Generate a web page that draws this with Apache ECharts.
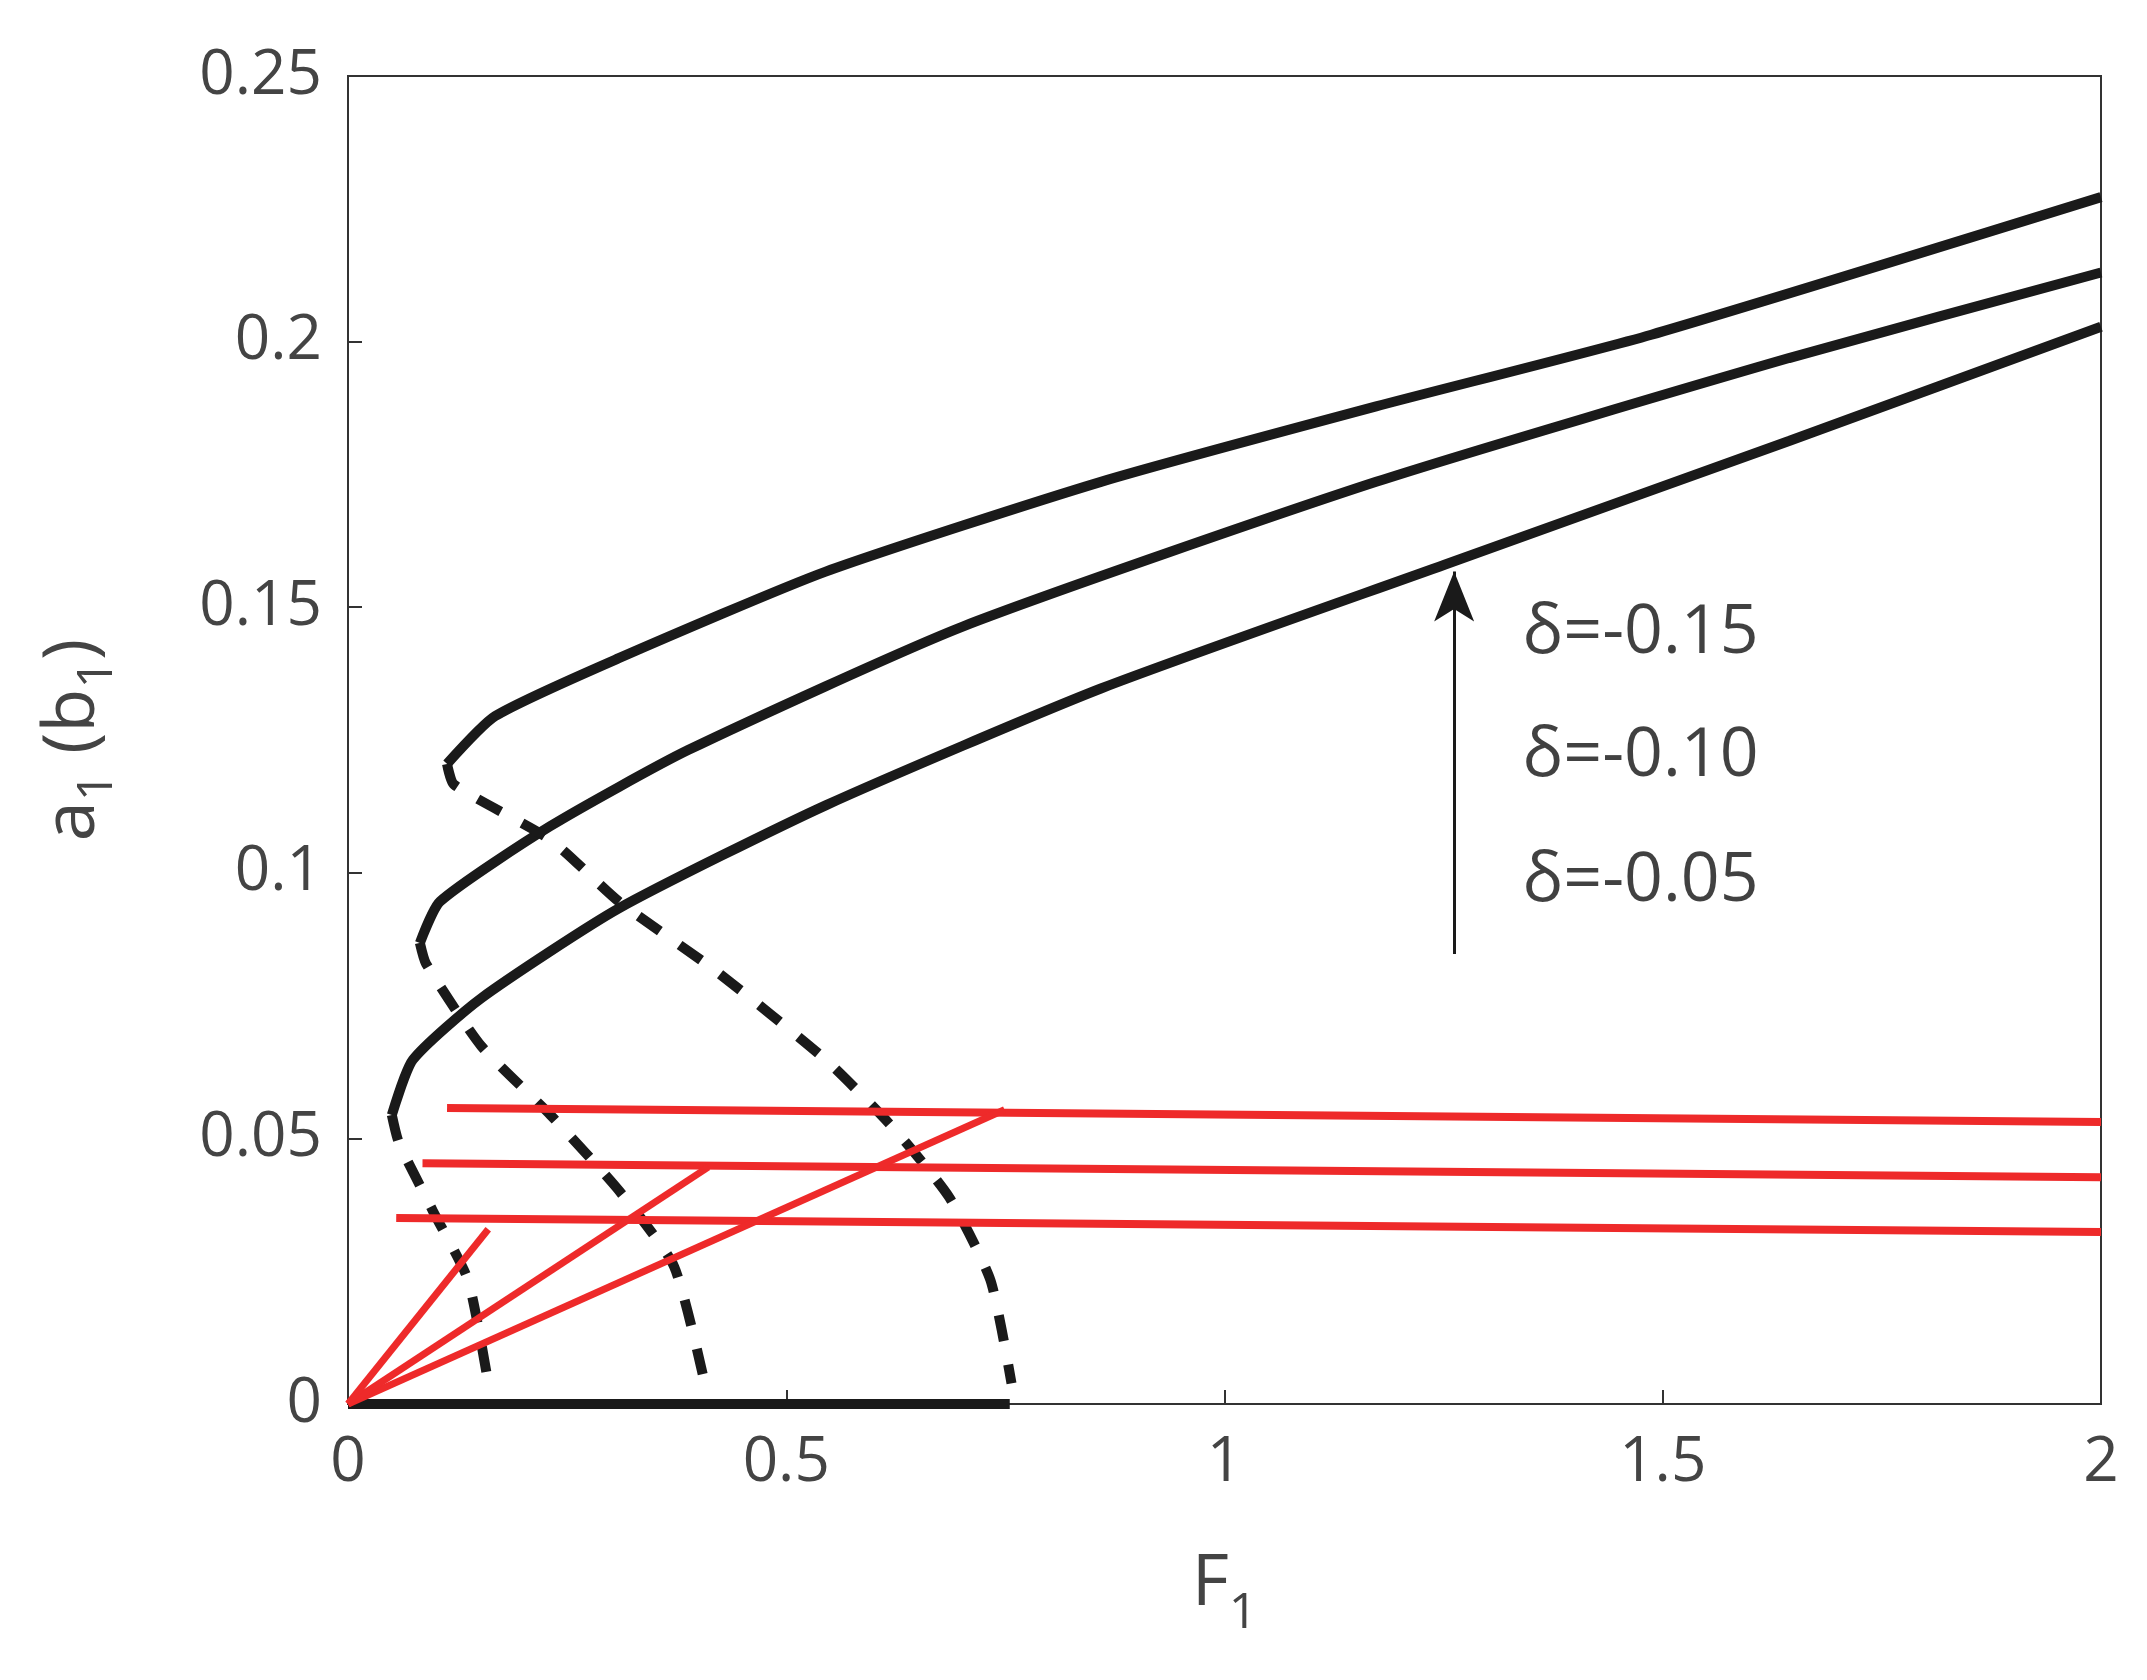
<!DOCTYPE html>
<html><head><meta charset="utf-8">
<script src="https://cdn.jsdelivr.net/npm/echarts@6/dist/echarts.min.js"></script>
<style>html,body{margin:0;background:#fff}#c{width:2147px;height:1680px}</style>
</head><body><div id="c"></div>
<script>
// stable branches (solid black)
const upper15 = [[0.113,0.1205],[0.168,0.1295],[0.309,0.1404],[0.545,0.1567],[0.859,0.1736],[1.173,0.1878],[1.487,0.2013],[2,0.2272]];
const upper10 = [[0.082,0.0868],[0.105,0.0946],[0.231,0.1088],[0.388,0.1231],[0.702,0.1464],[1.173,0.1736],[1.644,0.1969],[2,0.213]];
const upper05 = [[0.050,0.0544],[0.074,0.0648],[0.152,0.0764],[0.309,0.0933],[0.545,0.1127],[0.859,0.1347],[1.251,0.158],[1.644,0.1813],[2,0.2028]];
// unstable branches (dashed black)
const mid15 = [[0.113,0.1205],[0.121,0.1166],[0.231,0.1062],[0.309,0.0946],[0.419,0.0816],[0.545,0.0648],[0.623,0.0518],[0.686,0.0389],[0.733,0.0233],[0.757,0.0039]];
const mid10 = [[0.082,0.0868],[0.089,0.0829],[0.152,0.0674],[0.231,0.0544],[0.309,0.0402],[0.372,0.0259],[0.407,0.0039]];
const mid05 = [[0.050,0.0544],[0.058,0.0492],[0.097,0.0363],[0.137,0.0233],[0.160,0.0039]];
const trivial = [[0,0],[0.755,0]];
// red branches
const redH15 = [[0.113,0.0557],[2,0.0531]];
const redH10 = [[0.085,0.0453],[2,0.0427]];
const redH05 = [[0.055,0.035],[2,0.0324]];
const redD15 = [[0,0],[0.749,0.0554]];
const redD10 = [[0,0],[0.411,0.0446]];
const redD05 = [[0,0],[0.160,0.0329]];
const deltaLabels = ['δ=-0.15','δ=-0.10','δ=-0.05'];
const deltaPos = [[1.34,0.145],[1.34,0.1218],[1.34,0.0984]];
const arrow = [[1.262,0.0847],[1.262,0.1567]];

const font = 'Open Sans';
const black = '#1a1a1a', red = '#ee2a2a';
function line(data, color, width, type, smooth) {
  return {type:'line', data, showSymbol:false, smooth: smooth ? 0.2 : false, silent:true,
    lineStyle:{color, width, type: type || 'solid'}, z: color === red ? 3 : 2};
}
const axisCommon = {
  min:0, axisLine:{show:true, lineStyle:{color:'#333', width:2}},
  axisTick:{show:true, inside:true, length:14, lineStyle:{color:'#333', width:2}},
  splitLine:{show:false}
};
const chart = echarts.init(document.getElementById('c'));
chart.setOption({
  backgroundColor:'#fff',
  animation:false,
  grid:{left:348, right:46, top:76, bottom:276, show:true, borderColor:'#333', borderWidth:2, backgroundColor:'transparent'},
  xAxis:[
    Object.assign({}, axisCommon, {type:'value', max:2, interval:0.5, position:'bottom',
      axisLabel:{fontFamily:font, fontSize:62, color:'#444', margin:28},
      name:'{a|F}{s|1}', nameLocation:'middle', nameGap:125,
      nameTextStyle:{rich:{a:{fontFamily:font, fontSize:72, color:'#444'}, s:{fontFamily:font, fontSize:50, color:'#444', padding:[60,0,0,0]}}}})
  ],
  yAxis:[
    Object.assign({}, axisCommon, {type:'value', max:0.25, interval:0.05, position:'left',
      axisLabel:{fontFamily:font, fontSize:62, color:'#444', margin:26},
      name:'{a|a}{s|1}{a| (b}{s|1}{a|)}', nameLocation:'middle', nameGap:225, nameRotate:90,
      nameTextStyle:{rich:{a:{fontFamily:font, fontSize:72, color:'#444'}, s:{fontFamily:font, fontSize:50, color:'#444', padding:[50,0,0,0]}}}})
  ],
  series:[
    line(upper15, black, 10, 'solid', true),
    line(upper10, black, 10, 'solid', true),
    line(upper05, black, 10, 'solid', true),
    line(mid15, black, 10, [26,24], true),
    line(mid10, black, 10, [26,24], true),
    line(mid05, black, 10, [26,24], true),
    line(trivial, black, 10),
    line(redH15, red, 8), line(redH10, red, 8), line(redH05, red, 8),
    line(redD15, red, 7), line(redD10, red, 7), line(redD05, red, 7),
    {type:'scatter', data:deltaPos.map((p,i)=>({value:p, name:deltaLabels[i]})), symbolSize:0, silent:true,
      label:{show:true, position:'right', distance:0, formatter:p=>p.name,
        fontFamily:font, fontSize:68, color:'#111'}},
    {type:'line', data:[], markLine:{silent:true, symbol:['none','arrow'], symbolSize:[30,50],
      label:{show:false}, lineStyle:{color:black, width:3, type:'solid'},
      data:[[{coord:arrow[0]},{coord:arrow[1]}]]}}
  ]
});
</script></body></html>
